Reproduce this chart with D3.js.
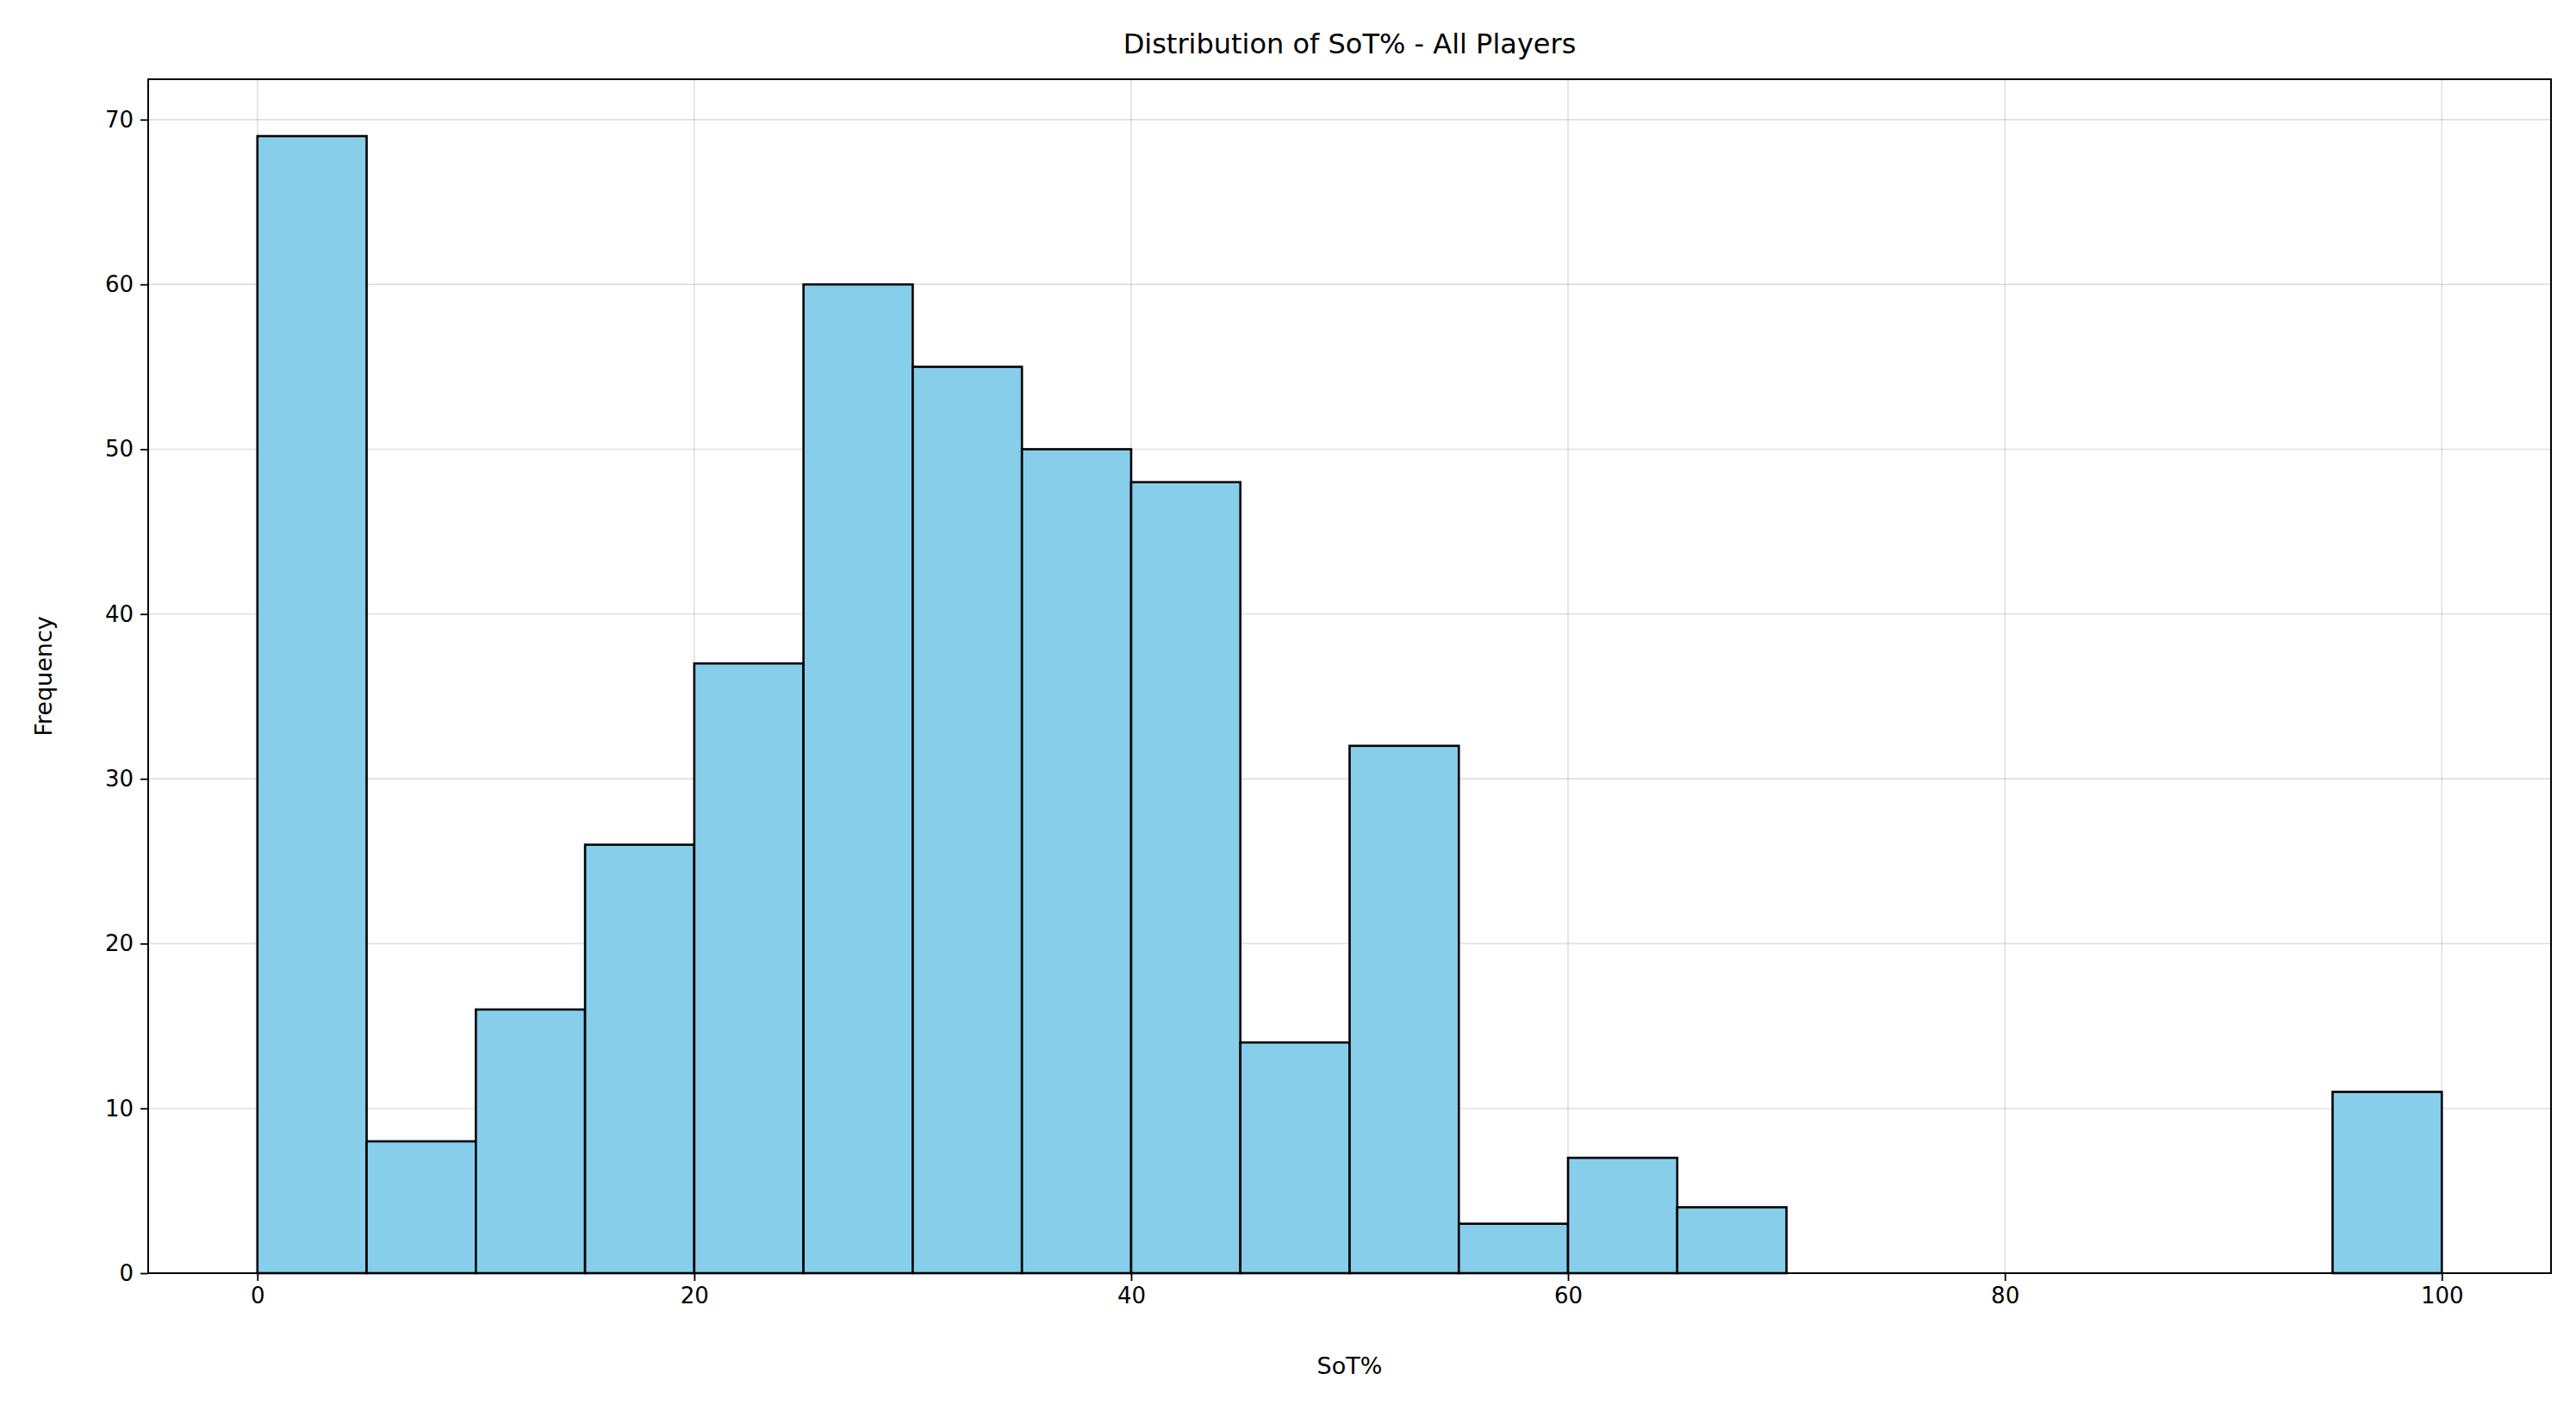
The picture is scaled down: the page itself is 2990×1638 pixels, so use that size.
<!DOCTYPE html>
<html><head><meta charset="utf-8">
<script src="https://cdn.jsdelivr.net/npm/d3@7"></script>
<style>body{margin:0;background:#fff}text{font-family:"DejaVu Sans",sans-serif}</style>
</head><body><svg id="c" width="2990" height="1638"></svg>
<script>
var binStarts = [0,5,10,15,20,25,30,35,40,45,50,55,60,65,70,75,80,85,90,95];
var counts = [69,8,16,26,37,60,55,50,48,14,32,3,7,4,0,0,0,0,0,11];
var xTicks = [0,20,40,60,80,100];
var yTicks = [0,10,20,30,40,50,60,70];
var binWidth = 5;

(function () {
  var svg = d3.select("#c");
  var pLeft = 172, pRight = 2961, pTop = 92, pBottom = 1478;
  var x = d3.scaleLinear().domain([-5, 105]).range([pLeft, pRight]);
  var y = d3.scaleLinear().domain([0, 72.45]).range([pBottom, pTop]);

  var g = svg.append("g");
  // grid
  g.selectAll(".gx").data(xTicks).enter().append("line")
    .attr("x1", d => x(d)).attr("x2", d => x(d)).attr("y1", pTop).attr("y2", pBottom)
    .attr("stroke", "#000").attr("stroke-opacity", 0.12).attr("stroke-width", 1.6);
  g.selectAll(".gy").data(yTicks).enter().append("line")
    .attr("x1", pLeft).attr("x2", pRight).attr("y1", d => y(d)).attr("y2", d => y(d))
    .attr("stroke", "#000").attr("stroke-opacity", 0.12).attr("stroke-width", 1.6);

  // bars
  g.selectAll(".bar").data(binStarts).enter().append("rect")
    .attr("x", d => x(d)).attr("width", x(binWidth) - x(0))
    .attr("y", (d, i) => y(counts[i])).attr("height", (d, i) => y(0) - y(counts[i]))
    .attr("fill", "#87ceeb").attr("stroke", "#000").attr("stroke-width", 2.6);

  // axes
  var xa = svg.append("g").attr("transform", "translate(0," + pBottom + ")")
    .call(d3.axisBottom(x).tickValues(xTicks).tickSize(9).tickPadding(8).tickFormat(d3.format("d")));
  var ya = svg.append("g").attr("transform", "translate(" + pLeft + ",0)")
    .call(d3.axisLeft(y).tickValues(yTicks).tickSize(9).tickPadding(8));
  [xa, ya].forEach(a => {
    a.select(".domain").remove();
    a.selectAll("line").attr("stroke-width", 1.8);
    a.selectAll("text").attr("font-size", 26).attr("font-family", "DejaVu Sans");
  });
  svg.append("rect").attr("x", pLeft).attr("y", pTop).attr("width", pRight - pLeft).attr("height", pBottom - pTop)
    .attr("fill", "none").attr("stroke", "#000").attr("stroke-width", 2);

  svg.append("text").attr("x", (pLeft + pRight) / 2).attr("y", 62).attr("text-anchor", "middle")
    .attr("font-size", 32).text("Distribution of SoT% - All Players");
  svg.append("text").attr("x", (pLeft + pRight) / 2).attr("y", 1595).attr("text-anchor", "middle")
    .attr("font-size", 27).text("SoT%");
  svg.append("text").attr("transform", "translate(60," + (pTop + pBottom) / 2 + ") rotate(-90)")
    .attr("text-anchor", "middle").attr("font-size", 27).text("Frequency");
}());
</script></body></html>
